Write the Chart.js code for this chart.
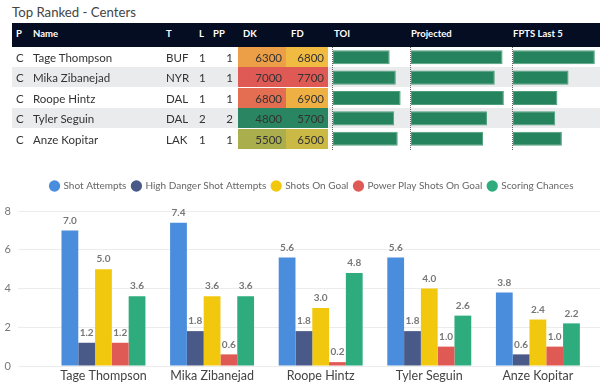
<!DOCTYPE html>
<html>
<head>
<meta charset="utf-8">
<script src="https://cdn.jsdelivr.net/npm/chart.js@4.4.0/dist/chart.umd.min.js"></script>
<style>
  body { margin: 0; width: 600px; height: 385px; overflow: hidden; background: #fff;
         font-family: Lato, sans-serif; position: relative; }
  #title { position: absolute; left: 12px; top: 4px; font-size: 13.2px; color: #444; }
  #head { position: absolute; left: 12px; top: 23px; width: 588px; height: 24px; background: #050d22; }
  .h { position: absolute; top: 23px; line-height: 21px; font-size: 9.5px; font-weight: 700; color: #fff; z-index: 3; }
  .rowbg { position: absolute; left: 12px; width: 588px; height: 20px; }
  .c { position: absolute; height: 20px; line-height: 21px; font-size: 11.5px; color: #333; white-space: nowrap;
       z-index: 2; will-change: transform; }
  .r { text-align: right; }
  .dot { position: absolute; top: 47px; height: 103px; border-left: 1px dotted #666; z-index: 3; }
  .databar { position: absolute; top: 47px; height: 102px; z-index: 3; }
  #chartBox { position: absolute; left: 0; top: 175px; width: 600px; height: 210px; }
</style>
</head>
<body>
<div id="title">Top Ranked - Centers</div>
<div id="head"></div>
<div class="dot" style="left:332px"></div>
<div class="dot" style="left:410px"></div>
<div class="dot" style="left:512px"></div>
<div class="databar" style="left:333px;width:76px"><canvas id="toiBars"></canvas></div>
<div class="databar" style="left:411px;width:100px"><canvas id="projBars"></canvas></div>
<div class="databar" style="left:513px;width:87px"><canvas id="fptsBars"></canvas></div>
<div id="chartBox"><canvas id="shotChart"></canvas></div>

<script>
// данные таблицы
const players = ['Tage Thompson', 'Mika Zibanejad', 'Roope Hintz', 'Tyler Seguin', 'Anze Kopitar'];
const positions = ['C', 'C', 'C', 'C', 'C'];
const teams = ['BUF', 'NYR', 'DAL', 'DAL', 'LAK'];
const lines = [1, 1, 1, 2, 1];
const ppUnits = [1, 1, 1, 2, 1];
const dkSalary = [6300, 7000, 6800, 4800, 5500];
const fdSalary = [6800, 7700, 6900, 5700, 6500];
const toi = [17.6, 19.5, 21.0, 19.0, 20.1];
const projected = [14.1, 12.9, 14.3, 11.7, 11.1];
const fptsLast5 = [22.1, 15.0, 12.0, 11.4, 13.2];

// данные графика
const shotAttempts = [7.0, 7.4, 5.6, 5.6, 3.8];
const highDanger = [1.2, 1.8, 1.8, 1.8, 0.6];
const shotsOnGoal = [5.0, 3.6, 3.0, 4.0, 2.4];
const ppShotsOnGoal = [1.2, 0.6, 0.2, 1.0, 1.0];
const scoringChances = [3.6, 3.6, 4.8, 2.6, 2.2];
const yTicks = [0, 2, 4, 6, 8];

Chart.defaults.font.family = 'Lato, sans-serif';
Chart.defaults.animation = false;

const ROW_TOP = 47, ROW_H = 20.4;

// цвет ячейки: зелёный -> жёлтый -> красный
function salaryColor(v, arr) {
  const lo = Math.min(...arr), hi = Math.max(...arr);
  const t = (v - lo) / (hi - lo);
  const g = [42, 133, 98], y = [243, 198, 63], r = [224, 90, 85];
  const a = t < 0.5 ? g : y, b = t < 0.5 ? y : r, k = t < 0.5 ? t * 2 : (t - 0.5) * 2;
  return 'rgb(' + a.map((c, i) => Math.round(c + (b[i] - c) * k)).join(',') + ')';
}

function cell(text, left, top, cls, extra) {
  const d = document.createElement('div');
  d.className = 'c ' + (cls || '');
  d.style.left = left + 'px';
  d.style.top = top + 'px';
  if (extra) Object.assign(d.style, extra);
  d.textContent = text;
  document.body.appendChild(d);
  return d;
}

// заголовок таблицы
[['P', 16], ['Name', 33], ['T', 166], ['L', 199], ['PP', 213], ['DK', 243], ['FD', 291],
 ['TOI', 334], ['Projected', 411], ['FPTS Last 5', 513]].forEach(([t, x]) => {
  const d = document.createElement('div');
  d.className = 'h';
  d.style.left = x + 'px';
  d.textContent = t;
  document.body.appendChild(d);
});

// строки таблицы
players.forEach((name, i) => {
  const top = ROW_TOP + i * ROW_H;
  const bg = document.createElement('div');
  bg.className = 'rowbg';
  bg.style.top = top + 'px';
  bg.style.background = i % 2 ? '#eaebed' : '#fff';
  document.body.appendChild(bg);

  cell(positions[i], 16, top);
  cell(name, 33, top);
  cell(teams[i], 166, top);
  cell(lines[i], 199, top);
  cell(ppUnits[i], 200, top, 'r', { width: '33px' });
  cell(dkSalary[i], 238, top, 'r',
       { width: '44px', paddingRight: '4px', height: '19.5px', background: salaryColor(dkSalary[i], dkSalary) });
  cell(fdSalary[i], 286, top, 'r',
       { width: '38px', paddingRight: '4px', height: '19.5px', background: salaryColor(fdSalary[i], fdSalary) });
});

/**
 * Гистограммы внутри ячеек (data bars)
 */
function initDataBar(canvasId, values, max) {
  const ctx = document.getElementById(canvasId).getContext('2d');
  new Chart(ctx, {
    type: 'bar',
    data: {
      labels: players,
      datasets: [{
        data: values,
        backgroundColor: '#25835e',
        borderColor: '#4f9f7d',
        borderWidth: 1,
        borderSkipped: false,
        categoryPercentage: 0.69,
        barPercentage: 1
      }]
    },
    options: {
      indexAxis: 'y',
      responsive: true,
      maintainAspectRatio: false,
      layout: { padding: 0 },
      plugins: { legend: { display: false }, tooltip: { enabled: false } },
      scales: {
        x: { display: false, min: 0, max: max },
        y: { display: false }
      }
    }
  });
}

initDataBar('toiBars', toi, 23.6);
initDataBar('projBars', projected, 15.4);
initDataBar('fptsBars', fptsLast5, 23.5);

// подписи значений над столбцами
const valueLabels = {
  id: 'valueLabels',
  afterDatasetsDraw(chart) {
    const ctx = chart.ctx;
    ctx.save();
    ctx.font = 'bold 10px Lato, sans-serif';
    ctx.fillStyle = '#777';
    ctx.textAlign = 'center';
    ctx.textBaseline = 'middle';
    chart.data.datasets.forEach((ds, i) => {
      chart.getDatasetMeta(i).data.forEach((bar, j) => {
        ctx.fillText(ds.data[j].y.toFixed(1), bar.x, bar.y - 10);
      });
    });
    ctx.restore();
  }
};

// отступ под легендой и сдвиг легенды вправо
const legendGap = {
  id: 'legendGap',
  beforeInit(chart) {
    const fit = chart.legend.fit;
    chart.legend.fit = function () {
      fit.call(this);
      this.height += 10;
    };
  },
  afterLayout(chart) {
    chart.legend.left += 12;
    chart.legend.right += 12;
  }
};

const toPoints = vals => vals.map((v, i) => ({ x: i, y: v }));

new Chart(document.getElementById('shotChart').getContext('2d'), {
  type: 'bar',
  data: {
    datasets: [
      { label: 'Shot Attempts', data: toPoints(shotAttempts), backgroundColor: '#4a8ddc' },
      { label: 'High Danger Shot Attempts', data: toPoints(highDanger), backgroundColor: '#4a5a88' },
      { label: 'Shots On Goal', data: toPoints(shotsOnGoal), backgroundColor: '#f2c80f' },
      { label: 'Power Play Shots On Goal', data: toPoints(ppShotsOnGoal), backgroundColor: '#e05a55' },
      { label: 'Scoring Chances', data: toPoints(scoringChances), backgroundColor: '#2eac7d' }
    ]
  },
  options: {
    responsive: true,
    maintainAspectRatio: false,
    layout: { padding: 0 },
    datasets: { bar: { categoryPercentage: 0.773, barPercentage: 1 } },
    plugins: {
      legend: {
        position: 'top',
        labels: {
          usePointStyle: true, pointStyle: 'circle', boxWidth: 8, boxHeight: 8,
          padding: 6, color: '#666', font: { size: 10 }
        }
      },
      tooltip: { enabled: false }
    },
    scales: {
      x: {
        type: 'linear', bounds: 'data', offset: false, min: -0.787, max: 4.572,
        grid: { display: false, drawTicks: false }, border: { display: false },
        afterFit: s => { s.height = 19; },
        afterBuildTicks: s => { s.ticks = players.map((p, i) => ({ value: i })); },
        ticks: { padding: 2, color: '#444', font: { size: 12.5 }, autoSkip: false, maxRotation: 0,
                 callback: v => players[v] || '' }
      },
      y: {
        min: 0, max: 8,
        afterFit: s => { s.width = 18; },
        afterBuildTicks: s => { s.ticks = yTicks.map(v => ({ value: v })); },
        grid: { color: '#ececec', drawTicks: false }, border: { display: false },
        ticks: { padding: 7, color: '#777', font: { size: 11 } }
      }
    }
  },
  plugins: [valueLabels, legendGap]
});
</script>
</body>
</html>
